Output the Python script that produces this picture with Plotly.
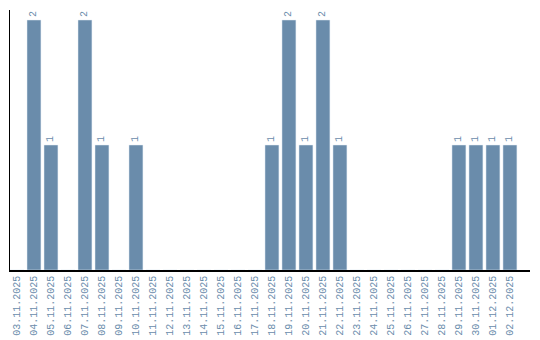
import plotly.graph_objects as go

dates = ["03.11.2025","04.11.2025","05.11.2025","06.11.2025","07.11.2025","08.11.2025",
         "09.11.2025","10.11.2025","11.11.2025","12.11.2025","13.11.2025","14.11.2025",
         "15.11.2025","16.11.2025","17.11.2025","18.11.2025","19.11.2025","20.11.2025",
         "21.11.2025","22.11.2025","23.11.2025","24.11.2025","25.11.2025","26.11.2025",
         "27.11.2025","28.11.2025","29.11.2025","30.11.2025","01.12.2025","02.12.2025"]
counts = [0,2,1,0,2,1,0,1,0,0,0,0,0,0,0,1,2,1,2,1,0,0,0,0,0,0,1,1,1,1]

BLUE = "#6a8cab"
FONT = "Liberation Mono"
labels = [str(v) if v > 0 else "" for v in counts]

fig = go.Figure(go.Bar(
    x=dates, y=counts, marker_color=BLUE,
    text=labels, textposition="outside", textangle=-90,
    textfont=dict(family=FONT, size=10, color=BLUE),
    cliponaxis=False, constraintext="none",
))
fig.update_layout(
    width=540, height=340, margin=dict(l=10, r=10, t=10, b=70),
    plot_bgcolor="white", paper_bgcolor="white", bargap=0.18, showlegend=False,
    font=dict(family=FONT, size=10, color=BLUE),
)
fig.update_xaxes(type="category", range=[-0.41, 30.18], showline=True, linecolor="black",
                 linewidth=1.5, tickangle=-90, ticks="", showgrid=False, automargin=False,
                 tickfont=dict(family=FONT, size=10, color=BLUE))
fig.update_yaxes(range=[0, 2.08], showline=True, linecolor="black", linewidth=1, automargin=False,
                 showticklabels=False, showgrid=False, zeroline=False, ticks="")
fig.write_html("out.html")
